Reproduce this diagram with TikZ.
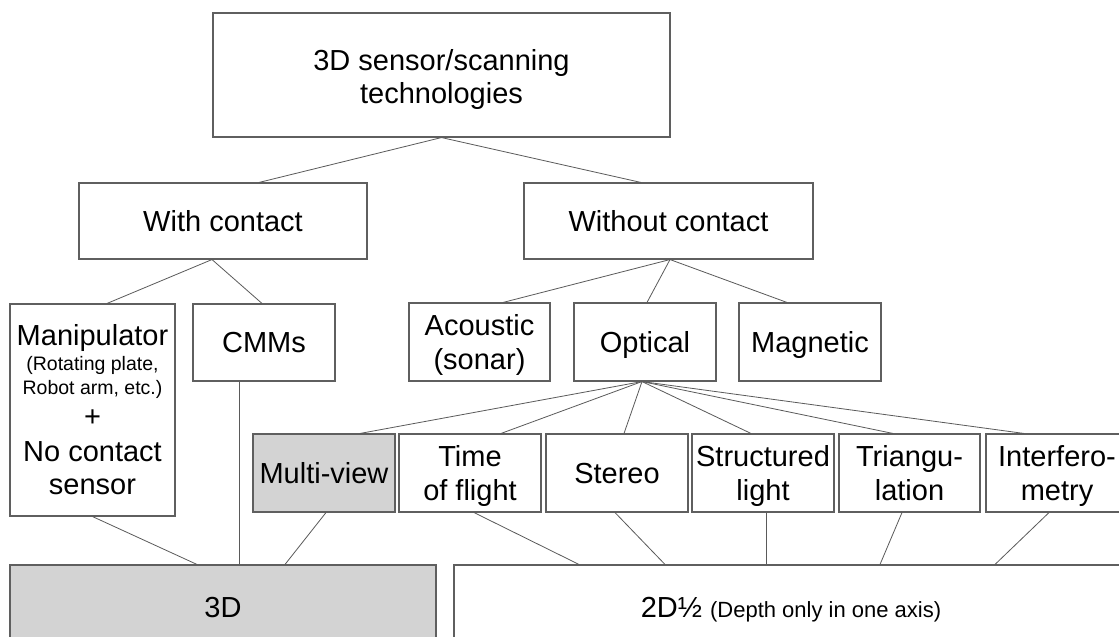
\documentclass[tikz,border=0pt]{standalone}
\usepackage{fontspec}
\setmainfont{Liberation Sans}
\definecolor{boxline}{RGB}{95,95,95}
\definecolor{linkcol}{RGB}{90,90,90}
\definecolor{grayfill}{RGB}{211,211,211}
\newcommand{\bigfnt}{\fontsize{29}{34}\selectfont}
\newcommand{\midfnt}{\fontsize{22}{26}\selectfont}
\newcommand{\boxstrut}{\rule[-7pt]{0pt}{34.8pt}}
\newcommand{\twolines}[3][0pt]{\begin{tabular}[b]{@{}c@{}}#2\\[#1]#3\end{tabular}}
\begin{document}
\begin{tikzpicture}[x=1pt,y=-1pt,
  base/.style={draw=boxline, line width=1.1pt, fill=white, inner sep=0pt,
    font=\bigfnt, text=black},
  box/.style={base, execute at begin node=\boxstrut, execute at end node=\boxstrut},
  two/.style={base, text height=62.4pt, text depth=7pt},
  graybox/.style={box, fill=grayfill},
  link/.style={draw=linkcol, line width=0.8pt}]
\useasboundingbox (0,0) rectangle (1119,637);
\clip (0,0) rectangle (1119,637);
\fill[white] (0,0) rectangle (1119,637);
% level 0
\node[two, text height=63pt, minimum width=457, minimum height=124] (top) at (441.5,75) {\twolines[-1pt]{3D sensor/scanning}{technologies}};
% level 1
\node[box, minimum width=288, minimum height=76] (with) at (223,221) {With contact};
\node[box, minimum width=289, minimum height=76] (without) at (668.5,221) {Without contact};
% level 2
\node[base, minimum width=165, minimum height=212] (manip) at (92.5,410) {\begin{minipage}{160pt}\centering
Manipulator\par
\fontsize{19.5}{25}\selectfont{}(Rotating plate,\par
\fontsize{19.5}{23.5}\selectfont{}Robot arm, etc.)\par
\fontsize{29}{32}\selectfont{}+\par
\fontsize{29}{35.5}\selectfont{}No contact\par
\fontsize{29}{33}\selectfont{}sensor\par
\end{minipage}};
\node[box, minimum width=142, minimum height=77] (cmms) at (264,342.5) {CMMs};
\node[two, minimum width=141, minimum height=78] (acoustic) at (479.5,342) {\twolines[0.5pt]{Acoustic}{(sonar)}};
\node[box, minimum width=142, minimum height=78] (optical) at (645,342) {Optical};
\node[box, minimum width=142, minimum height=78] (magnetic) at (810,342) {Magnetic};
% level 3
\node[graybox, minimum width=142, minimum height=78] (multiview) at (324,473) {Multi-view};
\node[two, minimum width=142, minimum height=78] (time) at (470,473) {\twolines{Time}{of flight}};
\node[box, minimum width=142, minimum height=78] (stereo) at (617,473) {Stereo};
\node[two, minimum width=142, minimum height=78] (structured) at (763,473) {\twolines{Structured}{light}};
\node[two, minimum width=141, minimum height=78] (triang) at (909.5,473) {\twolines{Triangu-}{lation}};
\node[two, minimum width=142, minimum height=78] (interf) at (1057,473) {\twolines{Interfero-}{metry}};
% level 4
\node[graybox, minimum width=426, minimum height=84] (threed) at (223,607) {3D};
\node[box, minimum width=674, minimum height=84] (twod) at (791,607) {2D½ \midfnt (Depth only in one axis)};
% connectors
\draw[link] (top.south) -- ([xshift=36]with.north);
\draw[link] (top.south) -- ([xshift=-27.5]without.north);
\draw[link] ([xshift=-11]with.south) -- ([xshift=14.5]manip.north);
\draw[link] ([xshift=-11]with.south) -- ([xshift=-2]cmms.north);
\draw[link] ([xshift=1.5]without.south) -- ([xshift=23.5]acoustic.north);
\draw[link] ([xshift=1.5]without.south) -- ([xshift=2]optical.north);
\draw[link] ([xshift=1.5]without.south) -- ([xshift=-23]magnetic.north);
\draw[link] ([xshift=-3]optical.south) -- ([xshift=36]multiview.north);
\draw[link] ([xshift=-3]optical.south) -- ([xshift=31]time.north);
\draw[link] ([xshift=-3]optical.south) -- ([xshift=7]stereo.north);
\draw[link] ([xshift=-3]optical.south) -- ([xshift=-12]structured.north);
\draw[link] ([xshift=-3]optical.south) -- ([xshift=-16.5]triang.north);
\draw[link] ([xshift=-3]optical.south) -- ([xshift=-33]interf.north);
\draw[link] (manip.south) -- ([xshift=-26]threed.north);
\draw[link] ([xshift=-25]cmms.south) -- ([xshift=16]threed.north);
\draw[link] ([xshift=2]multiview.south) -- ([xshift=62]threed.north);
\draw[link] ([xshift=4]time.south) -- ([xshift=-212]twod.north);
\draw[link] ([xshift=-2]stereo.south) -- ([xshift=-126]twod.north);
\draw[link] ([xshift=3]structured.south) -- ([xshift=-25]twod.north);
\draw[link] ([xshift=-7.5]triang.south) -- ([xshift=89]twod.north);
\draw[link] ([xshift=-8]interf.south) -- ([xshift=204]twod.north);
\end{tikzpicture}
\end{document}
